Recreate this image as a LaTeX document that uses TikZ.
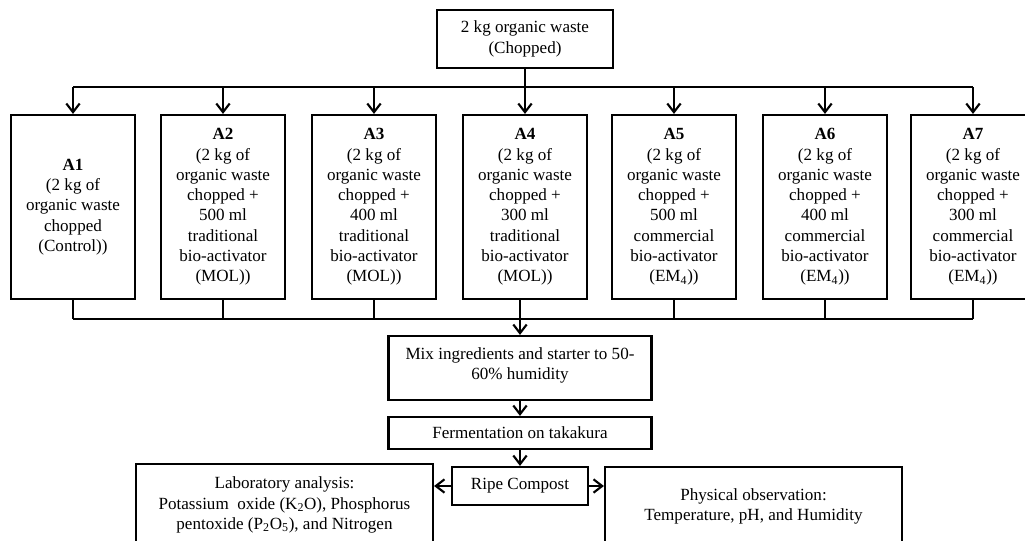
\documentclass[tikz,border=0pt]{standalone}
\usepackage{fontspec}
\setmainfont{Liberation Serif}
\usetikzlibrary{arrows.meta}
\begin{document}
\begin{tikzpicture}[x=0.75pt,y=-0.75pt,
  box/.style={draw, line width=1.6pt, inner sep=0pt, align=center, fill=white,
    font=\fontsize{12.8}{15.2}\selectfont},
  abox/.style={box, minimum width=124*0.75pt, minimum height=184*0.75pt},
  conn/.style={line width=1.6pt},
  arr/.style={line width=1.6pt, -{Straight Barb[length=6.5pt,width=10pt]}}
]
\useasboundingbox (0,0) rectangle (1025,540);
\clip (0,0) rectangle (1025,540);
\fill[white] (0,0) rectangle (1025,540);

\node[box, minimum width=176*0.75pt, minimum height=58*0.75pt] (top) at (525,39)
  {2 kg organic waste\\(Chopped)};

\node[abox] (A1) at (73,207) {\textbf{A1}\\(2 kg of\\organic waste\\chopped\\(Control))};
\node[abox] (A2) at (223,207) {\textbf{A2}\\(2 kg of\\organic waste\\chopped +\\500 ml\\traditional\\bio-activator\\(MOL))};
\node[abox] (A3) at (374,207) {\textbf{A3}\\(2 kg of\\organic waste\\chopped +\\400 ml\\traditional\\bio-activator\\(MOL))};
\node[abox] (A4) at (525,207) {\textbf{A4}\\(2 kg of\\organic waste\\chopped +\\300 ml\\traditional\\bio-activator\\(MOL))};
\node[abox] (A5) at (674,207) {\textbf{A5}\\(2 kg of\\organic waste\\chopped +\\500 ml\\commercial\\bio-activator\\(EM\textsubscript{4}))};
\node[abox] (A6) at (825,207) {\textbf{A6}\\(2 kg of\\organic waste\\chopped +\\400 ml\\commercial\\bio-activator\\(EM\textsubscript{4}))};
\node[abox] (A7) at (973,207) {\textbf{A7}\\(2 kg of\\organic waste\\chopped +\\300 ml\\commercial\\bio-activator\\(EM\textsubscript{4}))};

\node[box, minimum width=263*0.75pt, minimum height=64*0.75pt] (mix) at (520,368)
  {Mix ingredients and starter to 50-\\60\% humidity\\[-9pt]};
\node[box, minimum width=263*0.75pt, minimum height=32*0.75pt] (ferm) at (520,433)
  {Fermentation on takakura};
\node[box, minimum width=136*0.75pt, minimum height=38*0.75pt] (ripe) at (520,486)
  {Ripe Compost};
\node[box, minimum width=297*0.75pt, minimum height=82*0.75pt] (lab) at (284.5,505)
  {Laboratory analysis:\\Potassium\ \ oxide (K\textsubscript{2}O), Phosphorus\\pentoxide (P\textsubscript{2}O\textsubscript{5}), and Nitrogen};
\node[box, minimum width=297*0.75pt, minimum height=79*0.75pt] (phys) at (753.5,506.5)
  {Physical observation:\\Temperature, pH, and Humidity};

% distribution
\coordinate (dl) at (73,87);
\coordinate (dr) at (973,87);
\draw[conn] (dl) -- (dr);
\draw[arr] (top.south) -- (A4.north);
\foreach \n in {A1,A2,A3,A5,A6,A7}
  \draw[arr] (\n.north |- dl) -- (\n.north);

% collection
\coordinate (cl) at (73,319);
\coordinate (cr) at (973,319);
\draw[conn] (cl) -- (cr);
\foreach \n in {A1,A2,A3,A5,A6,A7}
  \draw[conn] (\n.south) -- (\n.south |- cl);
\draw[arr] (mix.north |- A4.south) -- (mix.north);

\draw[arr] (mix.south) -- (ferm.north);
\draw[arr] (ferm.south) -- (ripe.north);
\draw[arr] (ripe.west) -- (ripe.west -| lab.east);
\draw[arr] (ripe.east) -- (ripe.east -| phys.west);
\end{tikzpicture}
\end{document}
